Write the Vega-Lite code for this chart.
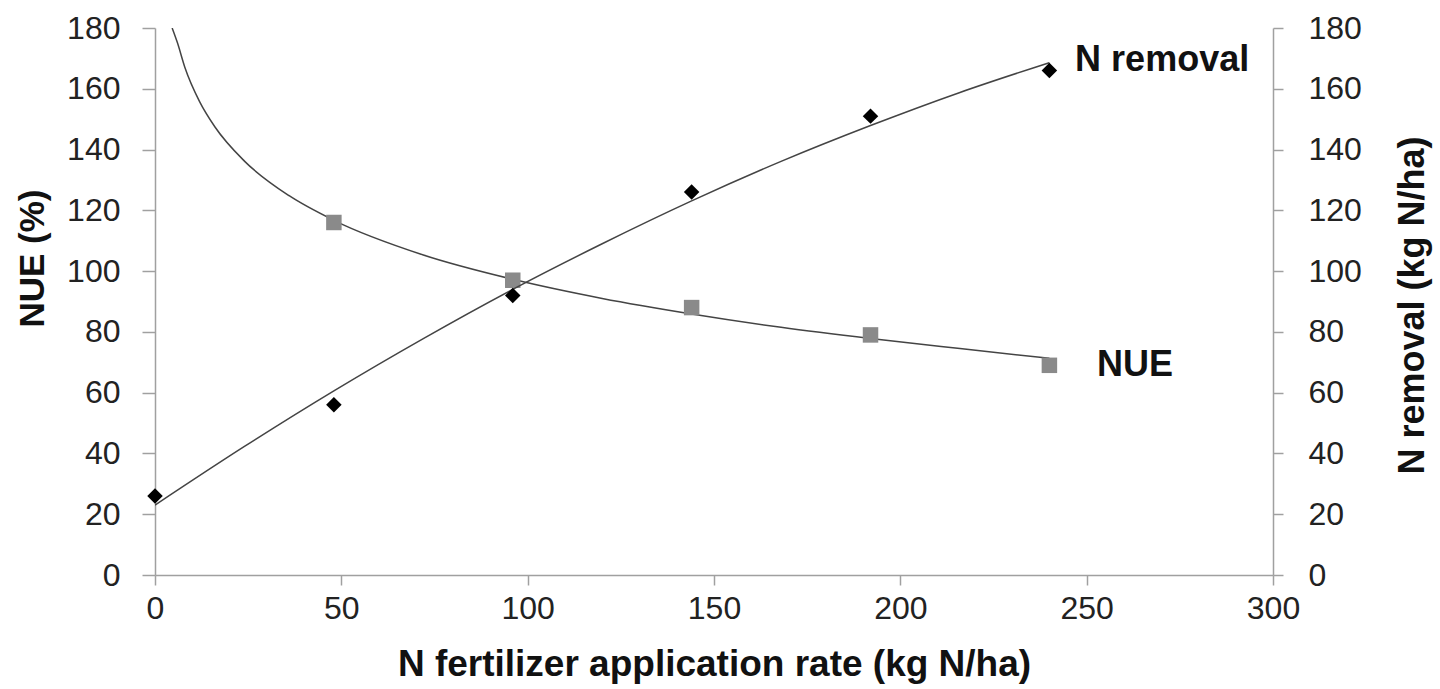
{
  "$schema": "https://vega.github.io/schema/vega-lite/v6.json",
  "autosize": "none",
  "width": 1118,
  "height": 547,
  "padding": {"left": 155, "top": 28, "right": 167, "bottom": 114},
  "background": "white",
  "config": {
    "view": {"stroke": null},
    "font": "Liberation Sans",
    "axis": {
      "grid": false,
      "domainColor": "#a0a0a0",
      "domainWidth": 1.5,
      "tickColor": "#a0a0a0",
      "tickWidth": 1.5,
      "labelFont": "Liberation Sans",
      "labelFontSize": 32,
      "labelColor": "#222222",
      "titleFont": "Liberation Sans",
      "titleFontSize": 36,
      "titleFontWeight": "bold",
      "titleColor": "#111111"
    }
  },
  "datasets": {
    "pts": [
      {"x": 0, "series": "N removal", "value": 26},
      {"x": 48, "series": "N removal", "value": 56},
      {"x": 96, "series": "N removal", "value": 92},
      {"x": 144, "series": "N removal", "value": 126},
      {"x": 192, "series": "N removal", "value": 151},
      {"x": 240, "series": "N removal", "value": 166},
      {"x": 48, "series": "NUE", "value": 116},
      {"x": 96, "series": "NUE", "value": 97},
      {"x": 144, "series": "NUE", "value": 88},
      {"x": 192, "series": "NUE", "value": 79},
      {"x": 240, "series": "NUE", "value": 69}
    ],
    "trend": [
      {"x": 0, "series": "N removal", "value": 23},
      {"x": 24, "series": "N removal", "value": 42.3},
      {"x": 48, "series": "N removal", "value": 60.6},
      {"x": 72, "series": "N removal", "value": 77.8},
      {"x": 96, "series": "N removal", "value": 94},
      {"x": 120, "series": "N removal", "value": 109},
      {"x": 144, "series": "N removal", "value": 123.1},
      {"x": 168, "series": "N removal", "value": 136.1},
      {"x": 192, "series": "N removal", "value": 147.9},
      {"x": 216, "series": "N removal", "value": 158.8},
      {"x": 240, "series": "N removal", "value": 168.6},
      {"x": 4.6, "series": "NUE", "value": 180},
      {"x": 6, "series": "NUE", "value": 175.2},
      {"x": 8, "series": "NUE", "value": 167.1},
      {"x": 12, "series": "NUE", "value": 155.7},
      {"x": 16, "series": "NUE", "value": 147.6},
      {"x": 24, "series": "NUE", "value": 136.2},
      {"x": 36, "series": "NUE", "value": 124.8},
      {"x": 48, "series": "NUE", "value": 116.7},
      {"x": 72, "series": "NUE", "value": 105.3},
      {"x": 96, "series": "NUE", "value": 97.3},
      {"x": 120, "series": "NUE", "value": 91},
      {"x": 144, "series": "NUE", "value": 85.9},
      {"x": 168, "series": "NUE", "value": 81.5},
      {"x": 192, "series": "NUE", "value": 77.8},
      {"x": 216, "series": "NUE", "value": 74.5},
      {"x": 240, "series": "NUE", "value": 71.3}
    ],
    "labels": [
      {"x": 246.9, "series": "N removal", "value": 169.5, "text": "N removal"},
      {"x": 252.8, "series": "NUE", "value": 69.1, "text": "NUE"}
    ]
  },
  "encoding": {
    "x": {
      "field": "x",
      "type": "quantitative",
      "scale": {"domain": [0, 300], "nice": false, "zero": false},
      "axis": {
        "values": [0, 50, 100, 150, 200, 250, 300],
        "tickSize": 10,
        "labelPadding": 23,
        "labelBaseline": "middle",
        "labelFlush": false,
        "title": "N fertilizer application rate (kg N/ha)",
        "titleY": 89,
        "titleBaseline": "middle",
        "titleFontSize": 37
      }
    }
  },
  "layer": [
    {
      "encoding": {
        "y": {
          "field": "value",
          "type": "quantitative",
          "scale": {"domain": [0, 180], "nice": false},
          "axis": {
            "orient": "left",
            "values": [0, 20, 40, 60, 80, 100, 120, 140, 160, 180],
            "tickSize": 13,
            "labelPadding": 22,
            "labelFlush": false,
            "title": "NUE (%)",
            "titleAngle": -90,
            "titleX": -123,
            "titleY": 230,
            "titleAlign": "center",
            "titleBaseline": "middle",
            "titleFontSize": 35
          }
        }
      },
      "layer": [
        {
          "data": {"name": "trend"},
          "transform": [{"filter": "datum.series === 'NUE'"}],
          "mark": {"type": "line", "color": "#444444", "strokeWidth": 1.5, "interpolate": "monotone", "clip": true}
        },
        {
          "data": {"name": "pts"},
          "transform": [{"filter": "datum.series === 'NUE'"}],
          "mark": {"type": "point", "shape": "square", "filled": true, "color": "#8a8a8a", "opacity": 1, "size": 240}
        },
        {
          "data": {"name": "labels"},
          "transform": [{"filter": "datum.series === 'NUE'"}],
          "mark": {"type": "text", "align": "left", "baseline": "middle", "fontSize": 36, "fontWeight": "bold", "color": "#111111", "font": "Liberation Sans"},
          "encoding": {"text": {"field": "text"}}
        }
      ]
    },
    {
      "encoding": {
        "y": {
          "field": "value",
          "type": "quantitative",
          "scale": {"domain": [0, 180], "nice": false},
          "axis": {
            "orient": "right",
            "values": [0, 20, 40, 60, 80, 100, 120, 140, 160, 180],
            "tickSize": 10,
            "labelPadding": 25,
            "labelFlush": false,
            "title": "N removal (kg N/ha)",
            "titleAngle": -90,
            "titleX": 139,
            "titleY": 277,
            "titleAlign": "center",
            "titleBaseline": "middle",
            "titleFontSize": 36
          }
        }
      },
      "layer": [
        {
          "data": {"name": "trend"},
          "transform": [{"filter": "datum.series === 'N removal'"}],
          "mark": {"type": "line", "color": "#444444", "strokeWidth": 1.5, "interpolate": "monotone", "clip": true}
        },
        {
          "data": {"name": "pts"},
          "transform": [{"filter": "datum.series === 'N removal'"}],
          "mark": {"type": "point", "shape": "diamond", "filled": true, "color": "#000000", "opacity": 1, "size": 240}
        },
        {
          "data": {"name": "labels"},
          "transform": [{"filter": "datum.series === 'N removal'"}],
          "mark": {"type": "text", "align": "left", "baseline": "middle", "fontSize": 36, "fontWeight": "bold", "color": "#111111", "font": "Liberation Sans"},
          "encoding": {"text": {"field": "text"}}
        }
      ]
    }
  ],
  "resolve": {"scale": {"y": "independent"}, "axis": {"y": "independent"}}
}
